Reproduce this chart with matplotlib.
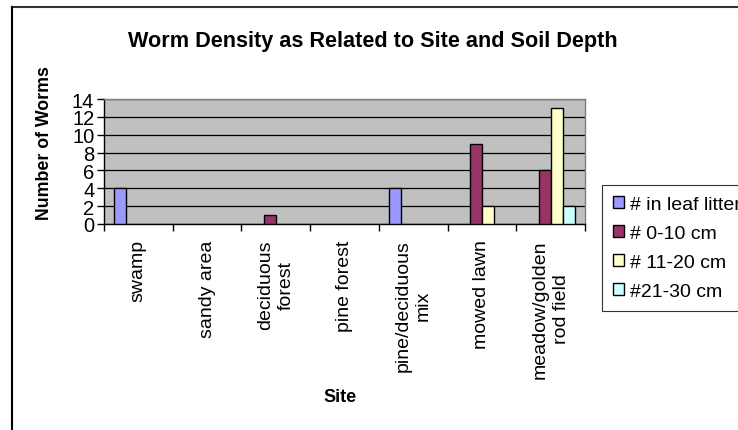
import matplotlib
matplotlib.use("Agg")
import matplotlib.pyplot as plt
import numpy as np
from matplotlib.lines import Line2D
from matplotlib.patches import Patch

plt.rcParams['font.family'] = ['Liberation Sans', 'DejaVu Sans']

sites = ["swamp", "sandy area", "deciduous\nforest", "pine forest",
         "pine/deciduous\nmix", "mowed lawn", "meadow/golden\nrod field"]
series_names = ["# in leaf litter", "# 0-10 cm", "# 11-20 cm", "#21-30 cm"]
leaf_litter = [4, 0, 0, 0, 4, 0, 0]
depth_0_10 = [0, 0, 1, 0, 0, 9, 6]
depth_11_20 = [0, 0, 0, 0, 0, 2, 13]
depth_21_30 = [0, 0, 0, 0, 0, 0, 2]
series_values = [leaf_litter, depth_0_10, depth_11_20, depth_21_30]
colors = ["#9999FF", "#993366", "#FFFFCC", "#CCFFFF"]
y_ticks = [0, 2, 4, 6, 8, 10, 12, 14]

W, H = 738, 431
fig = plt.figure(figsize=(W / 100, H / 100), dpi=100)

# outer chart-area border (top and left edges visible)
fig.add_artist(Line2D([11.5 / W, 1.0], [1 - 7.5 / H, 1 - 7.5 / H],
                      transform=fig.transFigure, color="#333333", lw=1.5))
fig.add_artist(Line2D([11.5 / W, 11.5 / W], [0, 1 - 7.5 / H],
                      transform=fig.transFigure, color="black", lw=1.5))

left, right, top, bottom = 104, 585, 100, 225
ax = fig.add_axes([left / W, 1 - bottom / H, (right - left) / W, (bottom - top) / H])
ax.set_facecolor("#C0C0C0")

n = len(sites)
x = np.arange(n)
bw = 0.175
offsets = (np.arange(len(series_values)) - 1.5) * bw
for vals, off, c in zip(series_values, offsets, colors):
    bars = ax.bar(x + off, vals, width=bw, color=c, edgecolor="black",
                  linewidth=1.0, zorder=3)
    # zero-height bars leave no outline
    for b, v in zip(bars, vals):
        if v == 0:
            b.set_linewidth(0)

ax.set_xlim(-0.5, n - 0.5)
ax.set_ylim(0, 14)
ax.set_yticks(y_ticks)
ax.set_yticklabels([str(t) for t in y_ticks], fontsize=14.5)
ax.yaxis.grid(True, color="black", linewidth=0.9, zorder=1)
ax.set_axisbelow(True)

ax.set_xticks(np.arange(n + 1) - 0.5)
ax.set_xticklabels([])
ax.set_xticks(x, minor=True)
ax.set_xticklabels(sites, minor=True, rotation=90, fontsize=14,
                   va="top", ha="center", multialignment="center",
                   linespacing=1.3)
ax.tick_params(axis="x", which="minor", length=0, pad=11)
ax.tick_params(axis="x", which="major", length=5, width=1, direction="out")
ax.tick_params(axis="y", length=5, width=1, direction="out", pad=2)

for s in ["left", "bottom"]:
    ax.spines[s].set_color("black")
    ax.spines[s].set_linewidth(1.0)
for s in ["top", "right"]:
    ax.spines[s].set_color("#808080")
    ax.spines[s].set_linewidth(1.0)

fig.text(373 / W, 1 - 42 / H, "Worm Density as Related to Site and Soil Depth",
         fontsize=15.6, fontweight="bold", ha="center", va="center")
fig.text(45 / W, 1 - 143 / H, "Number of Worms", rotation=90, fontsize=12.8,
         fontweight="bold", ha="center", va="center")
fig.text(340 / W, 1 - 398 / H, "Site", fontsize=13, fontweight="bold",
         ha="center", va="center")

handles = [Patch(facecolor=c, edgecolor="black", linewidth=1.0) for c in colors]
leg = fig.legend(handles, series_names, loc="upper left",
                 bbox_to_anchor=(602 / W, 1 - 186 / H),
                 fontsize=14, frameon=True, fancybox=False, edgecolor="black",
                 handlelength=0.6, handleheight=0.6, handletextpad=0.3,
                 labelspacing=0.62, borderpad=0.55, borderaxespad=0)
leg.get_frame().set_linewidth(0.8)

fig.savefig("out.png", dpi=100)
